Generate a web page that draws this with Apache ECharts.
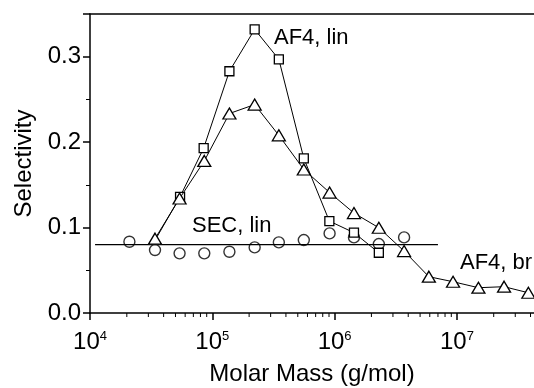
<!DOCTYPE html>
<html>
<head>
<meta charset="utf-8">
<script src="https://cdn.jsdelivr.net/npm/echarts@6/dist/echarts.min.js"></script>
<style>
    html, body { margin: 0; padding: 0; background: #fff; }
    #main { width: 534px; height: 388px; }
</style>
</head>
<body>
<div id="main"></div>
<script>
    // AF4, br (triangles)
    var brMass = [3.4e4, 5.4e4, 8.6e4, 1.38e5, 2.22e5, 3.5e5, 5.6e5, 9.1e5, 1.44e6, 2.3e6, 3.7e6, 5.9e6, 9.3e6, 1.5e7, 2.43e7, 3.84e7];
    var brSel = [0.087, 0.134, 0.178, 0.2335, 0.244, 0.208, 0.168, 0.141, 0.117, 0.0998, 0.0725, 0.0425, 0.0366, 0.0296, 0.0308, 0.0237];
    // AF4, lin (squares) - first point sits under the first triangle
    var linMass = [3.4e4, 5.45e4, 8.5e4, 1.38e5, 2.22e5, 3.5e5, 5.6e5, 9.06e5, 1.44e6, 2.3e6];
    var linSel = [0.085, 0.136, 0.193, 0.283, 0.332, 0.297, 0.181, 0.1076, 0.094, 0.0705];
    // SEC, lin (circles, no line)
    var secMass = [2.1e4, 3.4e4, 5.4e4, 8.6e4, 1.38e5, 2.22e5, 3.5e5, 5.6e5, 9.1e5, 1.44e6, 2.3e6, 3.7e6];
    var secSel = [0.0834, 0.0737, 0.0698, 0.0698, 0.0717, 0.0768, 0.0827, 0.0854, 0.0932, 0.0885, 0.0807, 0.0885];
    // SEC horizontal line
    var secLineMass = [1.1e4, 7e6];
    var secLineSel = [0.08, 0.08];

    var xMin = 1e4, xMax = 4.27e7;
    var font = 'Liberation Sans, Arial, sans-serif';

    function pairs(xs, ys) {
        var out = [];
        for (var i = 0; i < xs.length; i++) out.push([xs[i], ys[i]]);
        return out;
    }

    var linData = pairs(linMass, linSel);
    linData[0] = {value: linData[0], symbol: 'none'};

    // minor ticks of the log axis at 2..9 x 10^n
    var minorTicks = [];
    for (var n = 4; n <= 7; n++) {
        for (var k = 2; k <= 9; k++) {
            var v = k * Math.pow(10, n);
            if (v < xMax) minorTicks.push([v, 0]);
        }
    }

    var myChart = echarts.init(document.getElementById('main'));

    var option = {
        backgroundColor: '#fff',
        animation: false,
        grid: { left: 90, top: 14, right: 0, bottom: 75, containLabel: false, outerBoundsMode: 'none' },
        xAxis: [{
            type: 'log',
            logBase: 10,
            min: xMin,
            max: xMax,
            name: 'Molar Mass (g/mol)',
            nameLocation: 'middle',
            nameGap: 49,
            nameTextStyle: { fontFamily: font, fontSize: 24, color: '#000' },
            axisLine: { lineStyle: { color: '#000', width: 1.5 } },
            axisTick: { inside: false, length: 7, lineStyle: { color: '#000', width: 1.5 } },
            splitLine: { show: false },
            axisLabel: {
                margin: 17,
                showMaxLabel: false,
                formatter: function (val) {
                    return '{b|10}{s|' + Math.round(Math.log10(val)) + '}';
                },
                rich: {
                    b: { fontFamily: font, fontSize: 24, color: '#000' },
                    s: { fontFamily: font, fontSize: 13, color: '#000', padding: [0, 0, 12, 0] }
                }
            }
        }, {
            type: 'log',
            min: xMin,
            max: xMax,
            position: 'top',
            axisLine: { lineStyle: { color: '#000', width: 1.5 } },
            axisTick: { show: false },
            axisLabel: { show: false },
            splitLine: { show: false }
        }],
        yAxis: {
            type: 'value',
            min: 0,
            max: 0.35,
            interval: 0.1,
            name: 'Selectivity',
            nameLocation: 'middle',
            nameGap: 54,
            nameTextStyle: { fontFamily: font, fontSize: 24, color: '#000' },
            axisLine: { show: true, lineStyle: { color: '#000', width: 1.5 } },
            axisTick: { inside: false, length: 7, lineStyle: { color: '#000', width: 1.5 } },
            minorTick: { show: true, splitNumber: 2, length: 4, lineStyle: { color: '#000', width: 1 } },
            splitLine: { show: false },
            axisLabel: {
                margin: 9,
                showMaxLabel: false,
                fontFamily: font,
                fontSize: 24,
                color: '#000',
                formatter: function (val) { return val.toFixed(1); }
            }
        },
        graphic: [
            { type: 'text', left: 274, top: 27, style: { text: 'AF4, lin', font: '22px ' + font, fill: '#000' } },
            { type: 'text', left: 192, top: 215, style: { text: 'SEC, lin', font: '22px ' + font, fill: '#000' } },
            { type: 'text', left: 460, top: 252, style: { text: 'AF4, br', font: '22px ' + font, fill: '#000' } }
        ],
        series: [
            {
                name: 'SEC line',
                type: 'line',
                data: pairs(secLineMass, secLineSel),
                symbol: 'none',
                lineStyle: { color: '#000', width: 1.2 },
                z: 1
            },
            {
                name: 'AF4, lin',
                type: 'line',
                data: linData,
                symbol: 'rect',
                symbolSize: 9,
                lineStyle: { color: '#000', width: 1 },
                itemStyle: { color: '#fff', borderColor: '#000', borderWidth: 1.3 },
                z: 3
            },
            {
                name: 'AF4, br',
                type: 'line',
                data: pairs(brMass, brSel),
                symbol: 'triangle',
                symbolSize: [13, 11],
                lineStyle: { color: '#000', width: 1 },
                itemStyle: { color: '#fff', borderColor: '#000', borderWidth: 1.3 },
                z: 4
            },
            {
                name: 'SEC, lin',
                type: 'scatter',
                data: pairs(secMass, secSel),
                symbol: 'circle',
                symbolSize: 11,
                itemStyle: { color: 'rgba(255,255,255,0)', borderColor: '#000', borderWidth: 1.4 },
                z: 2
            },
            {
                name: 'minor ticks',
                type: 'custom',
                data: minorTicks,
                clip: false,
                silent: true,
                renderItem: function (params, api) {
                    var p = api.coord([api.value(0), 0]);
                    return {
                        type: 'line',
                        shape: { x1: p[0], y1: p[1], x2: p[0], y2: p[1] + 4 },
                        style: { stroke: '#000', lineWidth: 1 }
                    };
                },
                z: 5
            }
        ]
    };
    myChart.setOption(option);
</script>
</body>
</html>
